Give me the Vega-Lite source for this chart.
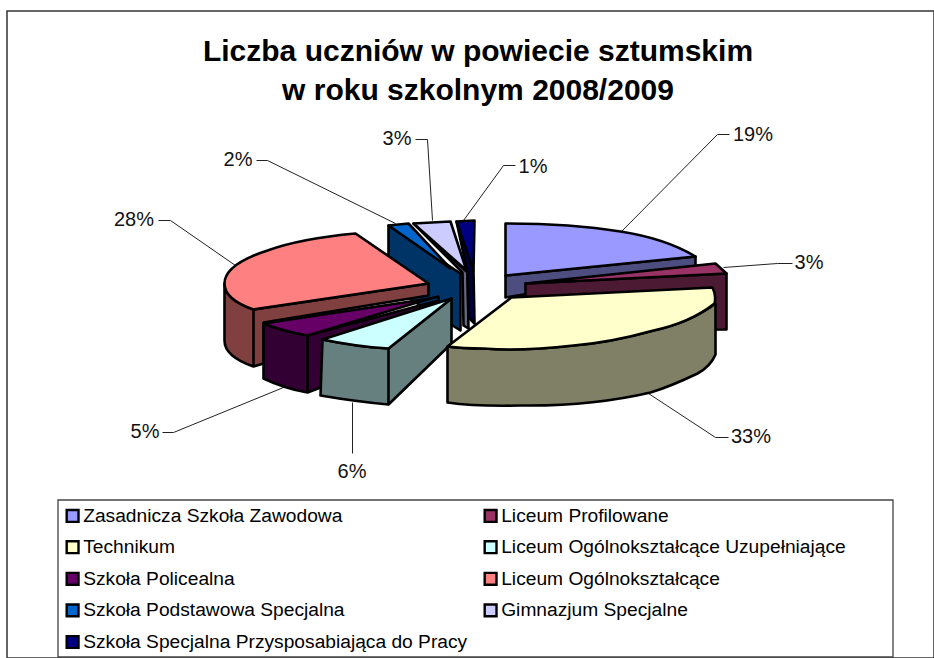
{
"$schema":"https://vega.github.io/schema/vega-lite/v6.json",
"width":927,"height":647,
"autosize":{"type":"none"},
"padding":{"left":7,"top":11,"right":0,"bottom":0},
"background":"white",
"view":{"stroke":"#333333","strokeWidth":1.5,"fill":"white"},
"config":{"font":"Liberation Sans"},
"title":{"text":["Liczba uczniów w powiecie sztumskim","w roku szkolnym 2008/2009"],"font":"Liberation Sans","fontSize":30,"fontWeight":"bold","color":"#000000","lineHeight":39,"anchor":"middle","frame":"group","dx":7.5,"offset":-95},
"data":{"values":[
{"szkola":"Szkoła Podstawowa Specjalna","udzial":0.02},
{"szkola":"Gimnazjum Specjalne","udzial":0.03},
{"szkola":"Szkoła Specjalna Przysposabiająca do Pracy","udzial":0.01},
{"szkola":"Zasadnicza Szkoła Zawodowa","udzial":0.19},
{"szkola":"Liceum Profilowane","udzial":0.03},
{"szkola":"Liceum Ogólnokształcące","udzial":0.28},
{"szkola":"Szkoła Policealna","udzial":0.05},
{"szkola":"Liceum Ogólnokształcące Uzupełniające","udzial":0.06},
{"szkola":"Technikum","udzial":0.33}
]},
"layer":[
{"mark":{"type":"point","filled":true,"size":1,"opacity":1,"shape":"square"},
 "encoding":{
  "color":{"field":"szkola","type":"nominal","title":null,"scale":{
   "domain":["Zasadnicza Szkoła Zawodowa","Liceum Profilowane","Technikum","Liceum Ogólnokształcące Uzupełniające","Szkoła Policealna","Liceum Ogólnokształcące","Szkoła Podstawowa Specjalna","Gimnazjum Specjalne","Szkoła Specjalna Przysposabiająca do Pracy"],
   "range":["#9999FF","#993366","#FFFFCC","#CCFFFF","#660066","#FF8080","#0066CC","#CCCCFF","#000080"]},
   "legend":{"orient":"none","legendX":49,"legendY":488,"columns":2,"direction":"horizontal","symbolType":"square","symbolSize":140,"symbolStrokeColor":"#000000","symbolStrokeWidth":2.4,"symbolOpacity":1,"labelFont":"Liberation Sans","labelFontSize":19.2,"labelColor":"#000000","labelOffset":1,"labelLimit":500,"rowPadding":8.6,"columnPadding":11,"padding":7}}}},
{"mark":{"type":"point","filled":false,"stroke":"#222222","strokeWidth":1,"size":4,"opacity":1},
 "encoding":{"shape":{"field":"szkola","type":"nominal","legend":null,"scale":{
  "domain":["Zasadnicza Szkoła Zawodowa","Liceum Profilowane","Technikum","Liceum Ogólnokształcące Uzupełniające","Szkoła Policealna","Liceum Ogólnokształcące","Szkoła Podstawowa Specjalna","Gimnazjum Specjalne","Szkoła Specjalna Przysposabiająca do Pracy"],
  "range":["M150,-102L247,-200L259,-200","M253,-67L307,-71L322,-71","M178,59L245,103L258,103","M-118,68L-118,119","M-187,53L-297,98L-308,98","M-235,-69L-300,-114L-312,-114","M-75,-111L-203,-174L-214,-174","M-38,-114L-43,-195L-55,-195","M-7,-114L33,-169L45,-169"]}}}},
{"mark":{"type":"point","filled":true,"stroke":"#000000","strokeWidth":2.6,"strokeJoin":"round","size":4,"opacity":1},
 "encoding":{
  "color":{"field":"szkola","type":"nominal","legend":null,"scale":{
   "domain":["Zasadnicza Szkoła Zawodowa","Liceum Profilowane","Technikum","Liceum Ogólnokształcące Uzupełniające","Szkoła Policealna","Liceum Ogólnokształcące","Szkoła Podstawowa Specjalna","Gimnazjum Specjalne","Szkoła Specjalna Przysposabiająca do Pracy"],
   "range":["#4D4D80","#4D1A33","#808066","#668080","#330033","#804040","#003366","#666680","#000040"]}},
  "shape":{"field":"szkola","type":"nominal","legend":null,"scale":{
   "domain":["Zasadnicza Szkoła Zawodowa","Liceum Profilowane","Technikum","Liceum Ogólnokształcące Uzupełniające","Szkoła Policealna","Liceum Ogólnokształcące","Szkoła Podstawowa Specjalna","Gimnazjum Specjalne","Szkoła Specjalna Przysposabiająca do Pracy"],
   "range":[
   "M35,-59L225,-78L225,-68L35,-37Z",
   "M55,-51L256,-61L256,-5L55,-4Z",
   "M-23,12Q-8,14 13,14Q50,17 103,11Q140,8 183,-4Q220,-12 245,-31L245,20Q240,32 227,39Q200,52 180,58Q120,72 50,71Q5,72 -23,68Z",
   "M-148,5Q-115,12 -82,14L-82,70Q-115,67 -150,61ZM-82,14L-19,-36L-19,9L-82,70Z",
   "M-207,-11Q-186,-3 -163,1L-163,58Q-186,54 -207,44ZM-163,1L-32,-34L-32,-38L-40,-36L-32,-38L-32,8L-163,58Z",
   "M-246,-51Q-246,-35 -217,-25L-217,32Q-246,22 -246,6ZM-217,-25L-42,-51L-42,-39L-207,-12L-207,29L-217,32Z",
   "M-82,-109L-10,-61L-10,-4L-82,-49Z",
   "M-57,-111L-3,-62L-2,-6L-7,-9L-8,-62Z",
   "M-14,-113L3,-64L4,-11L-2,-17L-3,-62Z"]}}}},
{"mark":{"type":"point","filled":true,"stroke":"#000000","strokeWidth":2.6,"strokeJoin":"round","size":4,"opacity":1},
 "encoding":{
  "color":{"field":"szkola","type":"nominal","legend":null,"scale":{
   "domain":["Zasadnicza Szkoła Zawodowa","Liceum Profilowane","Technikum","Liceum Ogólnokształcące Uzupełniające","Szkoła Policealna","Liceum Ogólnokształcące","Szkoła Podstawowa Specjalna","Gimnazjum Specjalne","Szkoła Specjalna Przysposabiająca do Pracy"],
   "range":["#9999FF","#993366","#FFFFCC","#CCFFFF","#660066","#FF8080","#0066CC","#CCCCFF","#000080"]}},
  "shape":{"field":"szkola","type":"nominal","legend":null,"scale":{
   "domain":["Zasadnicza Szkoła Zawodowa","Liceum Profilowane","Technikum","Liceum Ogólnokształcące Uzupełniające","Szkoła Policealna","Liceum Ogólnokształcące","Szkoła Podstawowa Specjalna","Gimnazjum Specjalne","Szkoła Specjalna Przysposabiająca do Pracy"],
   "range":[
   "M35,-111Q100,-111 150,-103Q195,-96 225,-78L35,-59Z",
   "M55,-51L245,-71L256,-61Z",
   "M41,-37L242,-47Q246,-39 244,-31Q220,-12 183,-4Q140,8 103,11Q50,17 13,14Q-8,14 -23,12Z",
   "M-19,-36L-82,14Q-115,12 -148,5Z",
   "M-207,-11L-40,-36L-163,1Q-186,-3 -207,-11Z",
   "M-42,-51L-115,-101Q-170,-96 -203,-84Q-246,-70 -246,-51Q-246,-35 -217,-25Z",
   "M-82,-109L-62,-111L-20,-66Z",
   "M-57,-111L-20,-113L-4,-64Z",
   "M-14,-113L4,-114L3,-64Z"]}}}},
{"data":{"values":[{"ramka":"legenda"}]},
 "mark":{"type":"point","filled":false,"fill":"white","fillOpacity":0,"stroke":"#444444","strokeWidth":1.3,"size":4,"opacity":1,"shape":"M-412.5,165.5L422.5,165.5L422.5,322.5L-412.5,322.5Z"},"encoding":{}},
{"transform":[{"filter":{"field":"szkola","equal":"Zasadnicza Szkoła Zawodowa"}}],"mark":{"type":"text","fontSize":20,"font":"Liberation Sans","color":"#111111","dx":282.5,"dy":-199.5},"encoding":{"text":{"field":"udzial","type":"quantitative","format":".0%"}}},
{"transform":[{"filter":{"field":"szkola","equal":"Liceum Profilowane"}}],"mark":{"type":"text","fontSize":20,"font":"Liberation Sans","color":"#111111","dx":338.5,"dy":-71.5},"encoding":{"text":{"field":"udzial","type":"quantitative","format":".0%"}}},
{"transform":[{"filter":{"field":"szkola","equal":"Technikum"}}],"mark":{"type":"text","fontSize":20,"font":"Liberation Sans","color":"#111111","dx":280.5,"dy":102.5},"encoding":{"text":{"field":"udzial","type":"quantitative","format":".0%"}}},
{"transform":[{"filter":{"field":"szkola","equal":"Liceum Ogólnokształcące Uzupełniające"}}],"mark":{"type":"text","fontSize":20,"font":"Liberation Sans","color":"#111111","dx":-118.5,"dy":137.5},"encoding":{"text":{"field":"udzial","type":"quantitative","format":".0%"}}},
{"transform":[{"filter":{"field":"szkola","equal":"Szkoła Policealna"}}],"mark":{"type":"text","fontSize":20,"font":"Liberation Sans","color":"#111111","dx":-325.5,"dy":97.5},"encoding":{"text":{"field":"udzial","type":"quantitative","format":".0%"}}},
{"transform":[{"filter":{"field":"szkola","equal":"Liceum Ogólnokształcące"}}],"mark":{"type":"text","fontSize":20,"font":"Liberation Sans","color":"#111111","dx":-336.5,"dy":-114.5},"encoding":{"text":{"field":"udzial","type":"quantitative","format":".0%"}}},
{"transform":[{"filter":{"field":"szkola","equal":"Szkoła Podstawowa Specjalna"}}],"mark":{"type":"text","fontSize":20,"font":"Liberation Sans","color":"#111111","dx":-232.5,"dy":-174.5},"encoding":{"text":{"field":"udzial","type":"quantitative","format":".0%"}}},
{"transform":[{"filter":{"field":"szkola","equal":"Gimnazjum Specjalne"}}],"mark":{"type":"text","fontSize":20,"font":"Liberation Sans","color":"#111111","dx":-73.5,"dy":-195.5},"encoding":{"text":{"field":"udzial","type":"quantitative","format":".0%"}}},
{"transform":[{"filter":{"field":"szkola","equal":"Szkoła Specjalna Przysposabiająca do Pracy"}}],"mark":{"type":"text","fontSize":20,"font":"Liberation Sans","color":"#111111","dx":62.5,"dy":-167.5},"encoding":{"text":{"field":"udzial","type":"quantitative","format":".0%"}}}
],
"resolve":{"scale":{"color":"independent","shape":"independent"}}
}
